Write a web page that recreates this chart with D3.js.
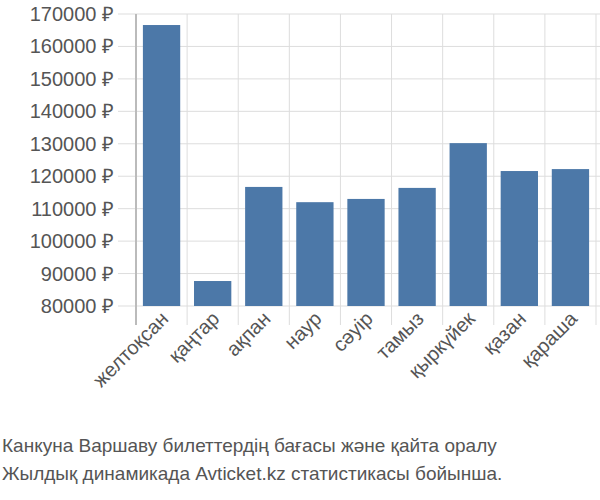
<!DOCTYPE html><html><head><meta charset="utf-8"><script src="https://cdn.jsdelivr.net/npm/d3@7"></script>
<style>body{margin:0;background:#fff}text{font-family:"Liberation Sans",Arial,sans-serif}</style></head><body>
<svg id="c" width="600" height="500"></svg>
<script>
const categories=["желтоқсан","қаңтар","ақпан","наур","сәуір","тамыз","қыркүйек","қазан","қараша"];
const values=[166600,87700,116700,112000,113000,116400,130200,121600,122200];
const yTicks=[80000,90000,100000,110000,120000,130000,140000,150000,160000,170000];
const svg=d3.select("#c");
const L=136,R=596,T=14,B=306;
const x=d3.scaleBand().domain(categories).range([L,R]).paddingInner(0.27).paddingOuter(0.135);
const y=d3.scaleLinear().domain([80000,170000]).range([B,T]);
const g=svg.append("g");
yTicks.forEach(t=>{g.append("line").attr("x1",118).attr("x2",R+4).attr("y1",y(t)).attr("y2",y(t)).attr("stroke","#ddd");
 g.append("text").attr("x",114).attr("y",y(t)).attr("dy","0.35em").attr("text-anchor","end").attr("font-size",20).attr("fill","#555").text(t+" ₽");});
const step=(R-L)/categories.length;
for(let i=0;i<=categories.length;i++){const xx=L+i*step;g.append("line").attr("x1",xx).attr("x2",xx).attr("y1",T).attr("y2",325).attr("stroke",i==0?"#bbb":"#ddd").attr("stroke-width",i==0?2:1);}
g.selectAll("rect").data(values).join("rect").attr("x",(d,i)=>x(categories[i])).attr("width",x.bandwidth()).attr("y",d=>y(d)).attr("height",d=>B-y(d)).attr("fill","#4c78a8");
categories.forEach((c,i)=>{const cx=x(c)+x.bandwidth()/2+8;g.append("text").attr("transform",`translate(${cx},${320}) rotate(-45)`).attr("text-anchor","end").attr("font-size",20).attr("fill","#555").text(c);});
svg.append("text").attr("x",2).attr("y",452).attr("font-size",19).attr("fill","#555").text("Канкуна Варшаву билеттердің бағасы және қайта оралу");
svg.append("text").attr("x",2).attr("y",480).attr("font-size",19).attr("fill","#555").text("Жылдық динамикада Avticket.kz статистикасы бойынша.");
</script></body></html>
